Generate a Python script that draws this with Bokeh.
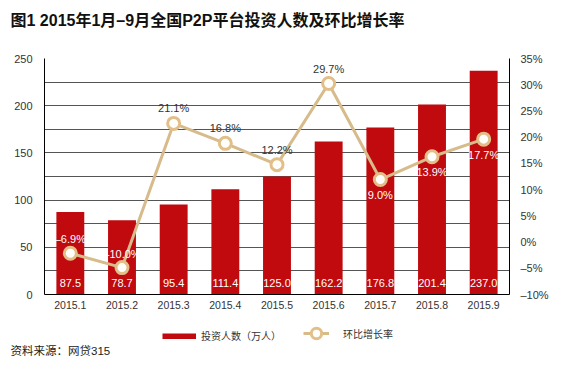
from bokeh.plotting import figure
from bokeh.layouts import column
from bokeh.models import (ColumnDataSource, Range1d, LinearAxis, FixedTicker,
                          LabelSet, Legend, LegendItem, Title)
from bokeh.core.properties import value
from bokeh.embed import file_html
from bokeh.resources import INLINE

# ---------------- data ----------------
months = ["2015.1", "2015.2", "2015.3", "2015.4", "2015.5",
          "2015.6", "2015.7", "2015.8", "2015.9"]
investors = [87.5, 78.7, 95.4, 111.4, 125.0, 162.2, 176.8, 201.4, 237.0]
growth = [-6.9, -10.0, 21.1, 16.8, 12.2, 29.7, 9.0, 13.9, 17.7]

left_ticks = [0, 50, 100, 150, 200, 250]
left_minor_ticks = [25, 75, 125, 175, 225]
pct_ticks = [-10, -5, 0, 5, 10, 15, 20, 25, 30, 35]
pct_tick_labels = ["–10%", "–5%", "0%", "5%", "10%", "15%", "20%", "25%", "30%", "35%"]

title_text = "图1  2015年1月–9月全国P2P平台投资人数及环比增长率"
source_text = "资料来源：网贷315"
bar_legend = "投资人数（万人）"
line_legend = "环比增长率"

# label styling (not data)
pct_label_offsets = [14, 14, 15, 15, 15, 15, -15, -15, -16]
pct_label_colors = ["white", "white", "#333333", "#333333", "#333333",
                    "#333333", "white", "white", "white"]

FONT = "Liberation Sans, Noto Sans CJK SC"
BAR = "#C00A0E"
LINE = "#D7BB8A"
RING = "#E2BF89"
FILL = "#FFFEFA"
TXT = "#333333"
W = 560


def blank(h, **kw):
    f = figure(width=W, height=h, x_range=Range1d(0, 1), y_range=Range1d(0, 1),
               output_backend="svg", toolbar_location=None,
               x_axis_location=None, y_axis_location=None,
               min_border=0, min_border_left=44, min_border_right=51,
               min_border_top=0, min_border_bottom=0,
               outline_line_color=None,
               background_fill_color="white", border_fill_color="white", **kw)
    f.grid.visible = False
    return f


# ---------------- header (title) ----------------
head = blank(42)
head.title.text = title_text
head.title.align = "left"
head.title.vertical_align = "middle"
head.title.offset = -34
head.title.standoff = 20
head.title.text_font = FONT
head.title.text_font_size = "16px"
head.title.text_font_style = "bold"
head.title.text_color = "#111111"

# ---------------- main chart ----------------
src = ColumnDataSource(dict(
    month=months,
    investors=investors,
    bar_label=[f"{v:.1f}" for v in investors],
    base=[0 for _ in investors],
    growth=growth,
    pct_label=[f"{v:.1f}%".replace("-", "–") for v in growth],
    pct_off=pct_label_offsets,
    pct_color=pct_label_colors,
))

p = figure(width=W, height=276, x_range=months, y_range=Range1d(0, 250),
           output_backend="svg", toolbar_location=None,
           min_border_left=44, min_border_right=51,
           min_border_top=16, min_border_bottom=24,
           outline_line_color=None,
           background_fill_color="white", border_fill_color="white")
p.extra_y_ranges = {"pct_axis": Range1d(-10, 35),
                    "pct_line": Range1d(-15.8, 35.1)}

ya = p.yaxis[0]
ya.ticker = FixedTicker(ticks=left_ticks, minor_ticks=left_minor_ticks)
ya.axis_line_color = "black"
ya.major_tick_line_color = None
ya.minor_tick_line_color = None
ya.major_tick_out = 0
ya.minor_tick_out = 0
ya.major_label_text_font = FONT
ya.major_label_text_font_size = "11px"
ya.major_label_text_color = TXT
ya.major_label_standoff = 12

p.ygrid.grid_line_color = "#555555"
p.ygrid.minor_grid_line_color = "#555555"
p.xgrid.grid_line_color = None

xa = p.xaxis[0]
xa.axis_line_color = "black"
xa.major_tick_line_color = None
xa.minor_tick_line_color = None
xa.major_tick_out = 0
xa.major_label_text_font = FONT
xa.major_label_text_font_size = "10.5px"
xa.major_label_text_color = TXT
xa.major_label_standoff = 6

ra = LinearAxis(y_range_name="pct_axis",
                ticker=FixedTicker(ticks=pct_ticks),
                major_label_overrides=dict(zip(pct_ticks, pct_tick_labels)))
ra.axis_line_color = "black"
ra.major_tick_line_color = None
ra.minor_tick_line_color = None
ra.major_tick_out = 0
ra.major_label_text_font = FONT
ra.major_label_text_font_size = "11px"
ra.major_label_text_color = TXT
ra.major_label_standoff = 11
p.add_layout(ra, "right")

bars = p.vbar(x="month", top="investors", width=0.54, fill_color=BAR,
              line_color=None, source=src)
line = p.line(x="month", y="growth", y_range_name="pct_line",
              line_color=LINE, line_width=3, source=src)
dots = p.scatter(x="month", y="growth", y_range_name="pct_line", size=12,
                 fill_color=FILL, line_color=RING, line_width=3, source=src)

p.add_layout(LabelSet(x="month", y="base", text="bar_label", source=src,
                      y_offset=12, text_align="center", text_baseline="middle",
                      text_font=value(FONT), text_font_size="11px",
                      text_color="white"))
p.add_layout(LabelSet(x="month", y="growth", y_range_name="pct_line",
                      text="pct_label", source=src, y_offset="pct_off",
                      text_align="center", text_baseline="middle",
                      text_font=value(FONT), text_font_size="11px",
                      text_color="pct_color"))

# ---------------- footer (legend + source) ----------------
foot = blank(40, x_axis_type="linear")
foot.x_range = Range1d(0, 465)
foot.y_range = Range1d(0, 25)
nan = float("nan")
key_src = ColumnDataSource(dict(x=[nan], y=[nan]))
bar_key = foot.line(x="x", y="y", source=key_src, line_color=BAR,
                    line_width=6, line_cap="butt")
line_key = foot.line(x="x", y="y", source=key_src, line_color=LINE, line_width=3)
dot_key = foot.scatter(x="x", y="y", source=key_src, fill_color=FILL,
                       line_color=RING, line_width=3)

common = dict(orientation="horizontal", padding=0, margin=0,
              border_line_color=None, background_fill_alpha=0,
              label_text_font=FONT, label_text_font_size="10px",
              label_text_color=TXT)
leg1 = Legend(items=[LegendItem(label=bar_legend, renderers=[bar_key])],
              location=(118, 1), glyph_width=34, glyph_height=6,
              label_standoff=5, **common)
leg2 = Legend(items=[LegendItem(label=line_legend, renderers=[line_key, dot_key])],
              location=(259, -3), glyph_width=26, glyph_height=28,
              label_standoff=14, **common)
foot.add_layout(leg1, "center")
foot.add_layout(leg2, "center")
foot.add_layout(Title(text=source_text, align="left", vertical_align="top",
                      offset=-34, standoff=0, text_font=FONT,
                      text_font_size="11.5px", text_font_style="normal",
                      text_color="#222222"), "below")

layout = column(head, p, foot, spacing=0)
open("out.html", "w").write(file_html(layout, INLINE))
